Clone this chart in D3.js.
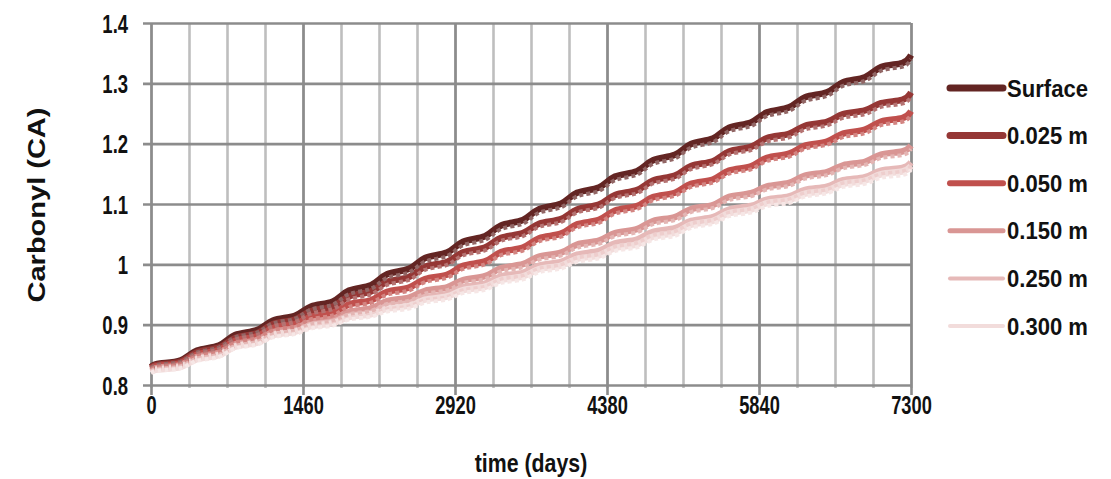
<!DOCTYPE html>
<html>
<head>
<meta charset="utf-8">
<script src="https://cdn.jsdelivr.net/npm/d3@7"></script>
<style>
  body { margin: 0; background: #fff; }
  text { font-family: "Liberation Sans", Arial, sans-serif; fill: #111; font-weight: bold; }
</style>
</head>
<body>
<svg id="chart" width="1111" height="479"></svg>
<script>
// depths (legend order)
var depths = ["Surface", "0.025 m", "0.050 m", "0.150 m", "0.250 m", "0.300 m"];

// sample days: start, flat stretch of each year (begin, end), end
var days = [0, 50, 315, 415, 680, 780, 1045, 1145, 1410, 1510, 1775, 1875, 2140,
  2240, 2505, 2605, 2870, 2970, 3235, 3335, 3600, 3700, 3965, 4065, 4330,
  4430, 4695, 4795, 5060, 5160, 5425, 5525, 5790, 5890, 6155, 6255, 6520,
  6620, 6885, 6985, 7250, 7300];

// values: start, one level per year (20), end
var surface = [0.830, 0.837, 0.861, 0.887, 0.911, 0.934, 0.961, 0.988, 1.015, 1.042, 1.069,
  1.096, 1.123, 1.150, 1.177, 1.204, 1.231, 1.256, 1.281, 1.306, 1.331, 1.347];
var d025 = [0.829, 0.835, 0.858, 0.882, 0.905, 0.926, 0.951, 0.975, 1.000, 1.024, 1.048,
  1.071, 1.095, 1.119, 1.143, 1.167, 1.191, 1.213, 1.233, 1.252, 1.270, 1.285];
var d050 = [0.827, 0.833, 0.854, 0.877, 0.898, 0.916, 0.937, 0.958, 0.979, 1.001, 1.024,
  1.047, 1.070, 1.093, 1.115, 1.137, 1.159, 1.180, 1.200, 1.220, 1.240, 1.254];
var d150 = [0.825, 0.830, 0.850, 0.871, 0.891, 0.907, 0.924, 0.942, 0.959, 0.977, 0.997,
  1.016, 1.036, 1.055, 1.075, 1.095, 1.115, 1.132, 1.150, 1.167, 1.185, 1.197];
var d250 = [0.823, 0.828, 0.847, 0.868, 0.887, 0.902, 0.917, 0.933, 0.948, 0.965, 0.983,
  1.001, 1.019, 1.038, 1.057, 1.075, 1.094, 1.110, 1.126, 1.142, 1.158, 1.169];
var d300 = [0.822, 0.827, 0.846, 0.867, 0.886, 0.900, 0.915, 0.929, 0.944, 0.960, 0.977,
  0.995, 1.012, 1.030, 1.049, 1.069, 1.088, 1.104, 1.120, 1.136, 1.152, 1.163];

// second (dashed) run for each depth
var surfaceB = [0.828, 0.835, 0.858, 0.883, 0.906, 0.929, 0.955, 0.982, 1.009, 1.036, 1.063,
  1.090, 1.117, 1.144, 1.171, 1.198, 1.225, 1.250, 1.275, 1.300, 1.325, 1.340];
var d025B = [0.827, 0.833, 0.855, 0.879, 0.901, 0.922, 0.946, 0.970, 0.995, 1.019, 1.043,
  1.066, 1.090, 1.114, 1.138, 1.162, 1.186, 1.207, 1.227, 1.246, 1.264, 1.278];
var d050B = [0.825, 0.831, 0.851, 0.874, 0.894, 0.912, 0.933, 0.953, 0.974, 0.996, 1.019,
  1.042, 1.065, 1.088, 1.110, 1.132, 1.154, 1.175, 1.195, 1.214, 1.234, 1.248];
var d150B = [0.823, 0.828, 0.847, 0.868, 0.887, 0.903, 0.920, 0.937, 0.954, 0.972, 0.992,
  1.011, 1.031, 1.050, 1.070, 1.090, 1.110, 1.127, 1.145, 1.162, 1.179, 1.191];
var d250B = [0.821, 0.826, 0.844, 0.865, 0.883, 0.898, 0.913, 0.928, 0.943, 0.960, 0.978,
  0.996, 1.014, 1.033, 1.052, 1.070, 1.089, 1.105, 1.121, 1.137, 1.152, 1.163];
var d300B = [0.820, 0.825, 0.843, 0.864, 0.882, 0.896, 0.911, 0.924, 0.939, 0.955, 0.972,
  0.990, 1.007, 1.025, 1.044, 1.064, 1.083, 1.099, 1.115, 1.131, 1.146, 1.157];

var xMajor = [0, 1460, 2920, 4380, 5840, 7300];
var yTicks = [0.8, 0.9, 1.0, 1.1, 1.2, 1.3, 1.4];

var runsA = [surface, d025, d050, d150, d250, d300];
var runsB = [surfaceB, d025B, d050B, d150B, d250B, d300B];
var colors = ["#632523", "#953735", "#c0504d", "#d99694", "#e6b9b8", "#f2dcdb"];
var legendWidth = [7, 7, 6, 5, 4, 4];

var svg = d3.select("#chart");
var x = d3.scaleLinear().domain([0, 7300]).range([151, 911]);
var y = d3.scaleLinear().domain([0.8, 1.4]).range([385, 23]);

// MINOR VERTICAL GRID (every 365 days)
var minor = svg.append("g")
    .attr("transform", "translate(0,385)")
    .call(d3.axisBottom(x).tickValues(d3.range(0, 7301, 365)).tickSizeInner(-362).tickSizeOuter(0).tickFormat(""));
minor.select(".domain").remove();
minor.selectAll("line").attr("y1", 3).attr("stroke", "#bebebe").attr("stroke-width", 2.6);

// HORIZONTAL GRID + Y AXIS
var yAxis = svg.append("g")
    .attr("transform", "translate(151,0)")
    .call(d3.axisLeft(y).tickValues(yTicks).tickSizeInner(-760).tickSizeOuter(0)
      .tickPadding(0).tickFormat(d => String(+d.toFixed(1))));
yAxis.select(".domain").remove();
yAxis.selectAll("line").attr("x1", -8).attr("stroke", "#8c8c8c").attr("stroke-width", 2.6);
yAxis.selectAll("text")
    .attr("x", -31)
    .attr("dy", "0.36em")
    .attr("transform", "scale(0.74,1)")
    .style("font-size", "25px");

// MAJOR VERTICAL GRID + X AXIS
var xAxis = svg.append("g")
    .attr("transform", "translate(0,385)")
    .call(d3.axisBottom(x).tickValues(xMajor).tickSizeInner(-362).tickSizeOuter(0)
      .tickPadding(0).tickFormat(d3.format("d")));
xAxis.select(".domain").remove();
xAxis.selectAll("line").attr("y1", 10).attr("stroke", "#8c8c8c").attr("stroke-width", 2.6);
xAxis.selectAll("text")
    .attr("x", 0)
    .attr("y", 29)
    .attr("dy", 0)
    .attr("transform", "scale(0.73,1)")
    .style("font-size", "25px");

// LINES
var line = d3.line()
    .x((d, j) => x(days[j]))
    .y(d => y(d))
    .curve(d3.curveBasis);
function points(vals) {
  return days.map((t, j) => vals[Math.floor((j + 1) / 2)]);
}

var plot = svg.append("g");
runsA.forEach(function(vals, i) {
  plot.append("path")
      .datum(points(vals))
      .attr("d", line)
      .attr("fill", "none")
      .attr("stroke", colors[i])
      .attr("stroke-width", 6.5)
      .attr("stroke-linejoin", "round");
});
runsB.forEach(function(vals, i) {
  plot.append("path")
      .datum(points(vals))
      .attr("d", line)
      .attr("fill", "none")
      .attr("stroke", d3.interpolateRgb(colors[i], "#fff")(0.3))
      .attr("stroke-width", 4)
      .attr("stroke-dasharray", "4,3");
});

// AXIS TITLES
svg.append("text")
    .attr("transform", "translate(531,472) scale(0.82,1)")
    .attr("text-anchor", "middle")
    .style("font-size", "26px")
    .text("time (days)");
svg.append("text")
    .attr("transform", "translate(45,205) scale(0.85,1) rotate(-90)")
    .attr("text-anchor", "middle")
    .style("font-size", "29px")
    .text("Carbonyl (CA)");

// LEGEND
var legend = svg.append("g").attr("transform", "translate(950,88)");
var rows = legend.selectAll("g")
    .data(depths)
  .enter().append("g")
    .attr("transform", (d, i) => "translate(0," + (i * 47.6) + ")");
rows.append("line")
    .attr("x1", 0).attr("x2", 53)
    .attr("stroke", (d, i) => colors[i])
    .attr("stroke-width", (d, i) => legendWidth[i])
    .attr("stroke-linecap", "round");
rows.append("text")
    .attr("transform", "translate(57,0) scale(0.92,1)")
    .attr("dy", "0.36em")
    .style("font-size", "24px")
    .text(d => d);
</script>
</body>
</html>
